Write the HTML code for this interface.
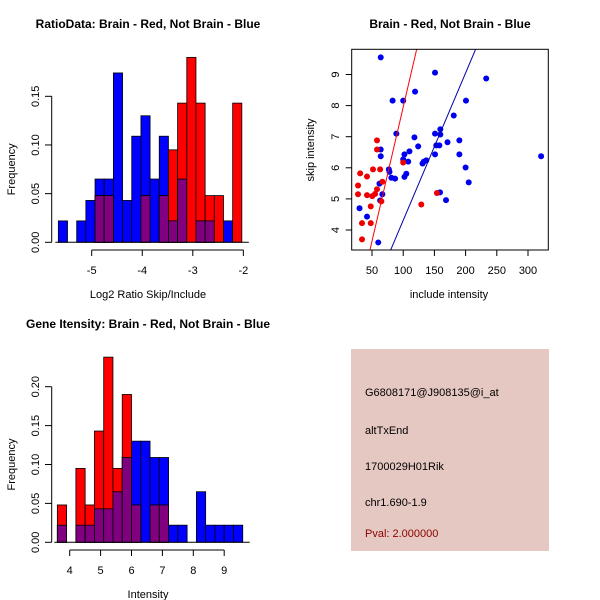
<!DOCTYPE html>
<html><head><meta charset="utf-8"><style>
body{margin:0;background:#fff}
svg{display:block;font-family:"Liberation Sans",sans-serif}
</style></head><body>
<svg id="c" width="600" height="600" xmlns="http://www.w3.org/2000/svg"></svg>
<script>
// ---- data: ratio histogram (top-left)
const ratioBinStart = -5.66;
const ratioBinWidth = 0.1815;
const ratioBlue = [0.022,0,0.022,0.043,0.065,0.065,0.174,0.043,0.109,0.130,0.065,0.109,0.022,0.065,0,0.022,0.022,0,0.022,0];
const ratioRed  = [0,0,0,0,0.048,0.048,0,0,0,0.048,0,0.048,0.095,0.143,0.190,0.143,0.048,0.048,0,0.143];
const ratioXTicks = [-5,-4,-3,-2];
const ratioYTicks = [0,0.05,0.10,0.15];
const ratioYLabels = ["0.00","0.05","0.10","0.15"];
// ---- data: intensity histogram (bottom-left)
const intBinStart = 3.6;
const intBinWidth = 0.3;
const intBlue = [0.022,0,0.022,0.022,0.043,0.043,0.065,0.109,0.130,0.130,0.109,0.109,0.022,0.022,0,0.065,0.022,0.022,0.022,0.022];
const intRed  = [0.048,0,0.095,0.048,0.143,0.238,0.095,0.190,0.048,0,0.048,0.048,0,0,0,0,0,0,0,0];
const intXTicks = [4,5,6,7,8,9];
const intYTicks = [0,0.05,0.10,0.15,0.20];
const intYLabels = ["0.00","0.05","0.10","0.15","0.20"];
// ---- data: scatter (top-right)
const blueInclude = [64,151,233,119,83,100,200.6,181,159.5,89,151,159.5,118,171,190,153,158,124,64,110,102,190,151,64,321,100,108,133,131,137,77,78,200,105,102,81,87,62,205,159,66.6,168.6,63,30,42,60];
const blueSkip    = [9.55,9.06,8.87,8.45,8.16,8.16,8.16,7.68,7.24,7.1,7.1,7.07,6.98,6.82,6.88,6.72,6.72,6.69,6.59,6.53,6.43,6.43,6.43,6.37,6.37,6.27,6.2,6.2,6.14,6.24,5.95,5.87,6.01,5.81,5.71,5.68,5.65,5.49,5.53,5.21,5.15,4.96,4.95,4.7,4.43,3.6];
const redInclude  = [58,58,27.6,31,42,51.6,63,27.6,42,50.4,55,58,66.6,48,34,48,34,65,100,154,129];
const redSkip     = [6.88,6.59,5.43,5.82,5.72,5.95,5.95,5.15,5.12,5.09,5.16,5.31,5.55,4.76,4.22,4.22,3.7,4.92,6.17,5.19,4.82];
const redFit  = [-0.67, 0.0862];  // intercept, slope
const blueFit = [-0.43, 0.0474];
const scXTicks = [50,100,150,200,250,300];
const scYTicks = [4,5,6,7,8,9];

const svg = document.getElementById('c');
const NS = 'http://www.w3.org/2000/svg';
function mk(tag, attrs, parent){const e=document.createElementNS(NS,tag);for(const k in attrs)e.setAttribute(k,attrs[k]);(parent||svg).appendChild(e);return e;}
function txt(s,x,y,attrs,parent){const e=mk('text',Object.assign({x:x,y:y,'font-size':11,'text-anchor':'middle',fill:'#000'},attrs||{}),parent);e.textContent=s;return e;}

function histogram(name, title, xlab, binStart, binW, blue, red, xTicks, yTicks, yLabels, xs, ys, yTop, axisY, titleY){
  const g = mk('g',{});
  
  
  const X = v => xs[0] + (v - xs[1]) * xs[2];
  const Y = v => ys[0] - v * ys[1];
  const t = txt(title, 148, titleY, {'font-weight':'bold','font-size':12}, g);
  
  
  for (let i = 0; i < blue.length; i++) {
    const x0 = X(binStart + i*binW), x1 = X(binStart + (i+1)*binW);
    if (blue[i] > 0) { const r = mk('rect',{x:x0,y:Y(blue[i]),width:x1-x0,height:Y(0)-Y(blue[i]),fill:'#0000ff',stroke:'#000','stroke-width':0.8},g);
        }
  }
  for (let i = 0; i < red.length; i++) {
    const x0 = X(binStart + i*binW), x1 = X(binStart + (i+1)*binW);
    if (red[i] > 0) { const r = mk('rect',{x:x0,y:Y(red[i]),width:x1-x0,height:Y(0)-Y(red[i]),fill:'#ff0000',stroke:'#000','stroke-width':0.8},g);
        }
    const ov = Math.min(red[i], blue[i]);
    if (ov > 0) { const r = mk('rect',{x:x0,y:Y(ov),width:x1-x0,height:Y(0)-Y(ov),fill:'#800080',stroke:'#000','stroke-width':0.8},g);
        }
  }
  // baseline
  mk('line',{x1:X(binStart)-3,x2:X(binStart+blue.length*binW)+7,y1:Y(0),y2:Y(0),stroke:'#000'},g);
  // y axis
  const ya = mk('g',{},g);
   
  mk('line',{x1:51.7,x2:51.7,y1:Y(yTicks[0]),y2:Y(yTicks[yTicks.length-1]),stroke:'#000'},ya);
  yTicks.forEach((v,i)=>{ mk('line',{x1:45,x2:51.7,y1:Y(v),y2:Y(v),stroke:'#000'},ya);
    txt(yLabels[i],36,Y(v),{transform:`rotate(-90 36 ${Y(v)})`,'dominant-baseline':'middle'},ya); });
  const yt = txt('Frequency',12,(Y(0)+Y(yTop))/2,{transform:`rotate(-90 12 ${(Y(0)+Y(yTop))/2})`,'dominant-baseline':'middle'},g);
   
  // x axis
  const xa = mk('g',{},g);
   
  mk('line',{x1:X(xTicks[0]),x2:X(xTicks[xTicks.length-1]),y1:axisY,y2:axisY,stroke:'#000'},xa);
  xTicks.forEach(v=>{ mk('line',{x1:X(v),x2:X(v),y1:axisY,y2:axisY+6,stroke:'#000'},xa); txt(String(v).replace('-','\u2212').replace('\u2212','-'),X(v),axisY+24,{},xa); });
  const xt = txt(xlab,148,axisY+48,{},g);
   
}

histogram('ratio-histogram','RatioData: Brain - Red, Not Brain - Blue','Log2 Ratio Skip/Include',
  ratioBinStart, ratioBinWidth, ratioBlue, ratioRed, ratioXTicks, ratioYTicks, ratioYLabels,
  [91.7,-5,50.55],[242.3,973.3],0.15,250,28);
histogram('intensity-histogram','Gene Itensity: Brain - Red, Not Brain - Blue','Intensity',
  intBinStart, intBinWidth, intBlue, intRed, intXTicks, intYTicks, intYLabels,
  [69.7,4,30.9],[542.3,778],0.20,550,328);

// ---- scatter
(function(){
  const g = mk('g',{});
   
  const X = v => 372 + (v-50)*0.624;
  const Y = v => 230 - (v-4)*31.1;
  const L=351.7,R=548.3,T=49.3,B=250;
  const t = txt('Brain - Red, Not Brain - Blue',450,28,{'font-weight':'bold','font-size':12},g);
   
  const cp = mk('clipPath',{id:'sc'},g); mk('rect',{x:L,y:T,width:R-L,height:B-T},cp);
  const pts = mk('g',{'clip-path':'url(#sc)'},g);
  blueInclude.forEach((v,i)=>{ const c=mk('circle',{cx:X(v),cy:Y(blueSkip[i]),r:3,fill:'#0000ee'},pts);
      });
  redInclude.forEach((v,i)=>{ const c=mk('circle',{cx:X(v),cy:Y(redSkip[i]),r:3,fill:'#ee0000'},pts);
      });
  const xa0=0,xa1=400;
  const rl = mk('line',{x1:X(xa0),y1:Y(redFit[0]+redFit[1]*xa0),x2:X(xa1),y2:Y(redFit[0]+redFit[1]*xa1),stroke:'#ff0000','stroke-width':1},pts);
   
  const bl = mk('line',{x1:X(xa0),y1:Y(blueFit[0]+blueFit[1]*xa0),x2:X(xa1),y2:Y(blueFit[0]+blueFit[1]*xa1),stroke:'#0000aa','stroke-width':1},pts);
   
  mk('rect',{x:L,y:T,width:R-L,height:B-T,fill:'none',stroke:'#000'},g);
  const xa = mk('g',{},g);  
  scXTicks.forEach(v=>{ mk('line',{x1:X(v),x2:X(v),y1:B,y2:B+6,stroke:'#000'},xa); txt(String(v),X(v),B+24,{},xa); });
  const ya = mk('g',{},g);  
  scYTicks.forEach(v=>{ mk('line',{x1:L-6,x2:L,y1:Y(v),y2:Y(v),stroke:'#000'},ya); txt(String(v),336,Y(v),{transform:`rotate(-90 336 ${Y(v)})`,'dominant-baseline':'middle'},ya); });
  const xt = txt('include intensity',449,298,{},g);  
  const yt = txt('skip intensity',311,150,{transform:'rotate(-90 311 150)','dominant-baseline':'middle'},g);  
})();

// ---- info panel
(function(){
  const g = mk('g',{});
   
  mk('rect',{x:351,y:349,width:198,height:202,fill:'#e6c8c2'},g);
  const lines=[['G6808171@J908135@i_at',396,'#000','probe-id'],['altTxEnd',434,'#000','event-type'],['1700029H01Rik',470,'#000','gene-name'],['chr1.690-1.9',506,'#000','location'],['Pval: 2.000000',537,'#8b0000','p-value']];
  lines.forEach(l=>{ const t=txt(l[0],365,l[1],{'text-anchor':'start',fill:l[2],'font-size':11},g);
      });
})();
</script>
</body></html>
